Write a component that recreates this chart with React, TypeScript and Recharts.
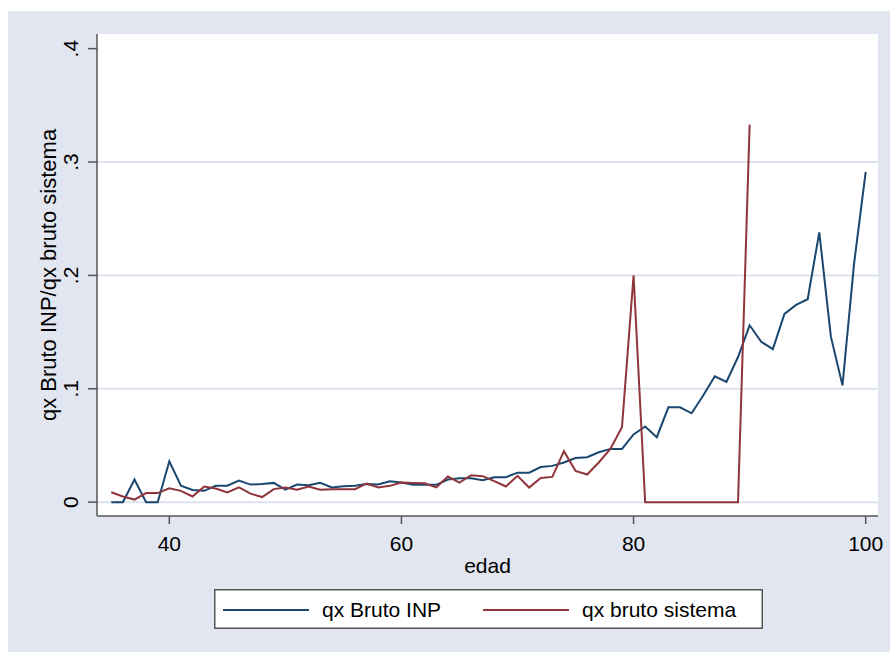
import { LineChart, Line, XAxis, YAxis, CartesianGrid, ReferenceLine, Legend, Label } from 'recharts';

// edad 35..100
const edades = [
  35, 36, 37, 38, 39, 40, 41, 42, 43, 44, 45, 46, 47, 48, 49, 50, 51, 52, 53, 54, 55, 56,
  57, 58, 59, 60, 61, 62, 63, 64, 65, 66, 67, 68, 69, 70, 71, 72, 73, 74, 75, 76, 77, 78,
  79, 80, 81, 82, 83, 84, 85, 86, 87, 88, 89, 90, 91, 92, 93, 94, 95, 96, 97, 98, 99, 100,
];

const qxBrutoINP = [
  0, 0, 0.02, 0, 0, 0.036, 0.0145, 0.0107, 0.01, 0.0145, 0.0145, 0.019, 0.0155, 0.016, 0.017, 0.011, 0.0155, 0.015, 0.017, 0.013, 0.014, 0.0145,
  0.016, 0.0156, 0.0185, 0.0173, 0.0153, 0.0153, 0.0153, 0.02, 0.021, 0.021, 0.0194, 0.022, 0.022, 0.026, 0.026, 0.031, 0.032, 0.035, 0.039, 0.0396, 0.044, 0.047,
  0.047, 0.0597, 0.0667, 0.0573, 0.0837, 0.0837, 0.0784, 0.094, 0.111, 0.106, 0.128, 0.156, 0.1415, 0.135, 0.166, 0.174, 0.179, 0.238, 0.146, 0.103, 0.2106, 0.2914,
];

const qxBrutoSistema = [
  0.0087, 0.005, 0.0023, 0.008, 0.008, 0.0122, 0.01, 0.005, 0.0137, 0.012, 0.0085, 0.013, 0.0075, 0.0045, 0.0115, 0.013, 0.011, 0.0137, 0.011, 0.0115, 0.0115, 0.0115,
  0.0165, 0.013, 0.0144, 0.0173, 0.017, 0.0167, 0.013, 0.0226, 0.0173, 0.0238, 0.0229, 0.0185, 0.0138, 0.0232, 0.0129, 0.0214, 0.0223, 0.045, 0.0276, 0.0244, 0.035, 0.047,
  0.066, 0.2, 0, 0, 0, 0, 0, 0, 0, 0, 0, 0.333, null, null, null, null, null, null, null, null, null, null,
];

const xTicks = [40, 60, 80, 100];
const yTicks = [0, 0.1, 0.2, 0.3, 0.4];
const gridValues = [0, 0.1, 0.2, 0.3];
const seriesNames = ['qx Bruto INP', 'qx bruto sistema'];
const seriesColors = ['#1A476F', '#90353B'];

const rows = edades.map((edad, i) => ({ edad, inp: qxBrutoINP[i], sistema: qxBrutoSistema[i] }));

const FONT = '"Liberation Sans", Arial, sans-serif';
const AXIS = '#555';

const fmtY = (v: number) => (v === 0 ? '0' : String(v).replace(/^0/, ''));

const YTick = (props: any) => {
  const { y, payload } = props;
  return (
    <text x={70} y={y} transform={`rotate(-90, 70, ${y})`} textAnchor="middle" fontSize={21} fontFamily={FONT} fill="#000">
      {fmtY(payload.value)}
    </text>
  );
};

const XTick = (props: any) => {
  const { x, payload } = props;
  return (
    <text x={x} y={540} textAnchor="middle" fontSize={21} fontFamily={FONT} fill="#000">
      {payload.value}
    </text>
  );
};

const Leyenda = () => (
  <svg width={549} height={40} style={{ display: 'block' }}>
    <rect x={0.75} y={0.75} width={547.5} height={38.5} fill="#fff" stroke={AXIS} strokeWidth={1.5} />
    <line x1={9} x2={95} y1={21} y2={21} stroke={seriesColors[0]} strokeWidth={2} />
    <text x={108} y={28} fontSize={21} fontFamily={FONT} fill="#000">{seriesNames[0]}</text>
    <line x1={269} x2={355} y1={21} y2={21} stroke={seriesColors[1]} strokeWidth={2} />
    <text x={368} y={28} fontSize={21} fontFamily={FONT} fill="#000">{seriesNames[1]}</text>
  </svg>
);

export default function App() {
  return (
    <div style={{ position: 'absolute', left: 8, top: 11, width: 882, height: 641, background: '#E1E6F0' }}>
      <LineChart width={882} height={641} data={rows} margin={{ top: 23, right: 12, bottom: 96, left: 9 }}>
        <CartesianGrid horizontal={false} vertical={false} fill="#fff" fillOpacity={1} />
        {gridValues.map((v) => (
          <ReferenceLine key={v} y={v} stroke="#DDE3EE" strokeWidth={2} />
        ))}
        <XAxis
          dataKey="edad"
          type="number"
          domain={[33.77, 101.06]}
          allowDataOverflow
          ticks={xTicks}
          interval={0}
          height={40}
          tickSize={8}
          axisLine={{ stroke: AXIS, strokeWidth: 1.5 }}
          tickLine={{ stroke: AXIS, strokeWidth: 1.5 }}
          tick={<XTick />}
        >
          <Label
            content={() => (
              <text x={479.5} y={562} textAnchor="middle" fontSize={21} fontFamily={FONT} fill="#000">edad</text>
            )}
          />
        </XAxis>
        <YAxis
          type="number"
          domain={[-0.0122, 0.4129]}
          allowDataOverflow
          ticks={yTicks}
          interval={0}
          width={80}
          tickSize={9}
          axisLine={{ stroke: AXIS, strokeWidth: 1.5 }}
          tickLine={{ stroke: AXIS, strokeWidth: 1.5 }}
          tick={<YTick />}
        >
          <Label
            content={() => (
              <text x={48} y={264} transform="rotate(-90, 48, 264)" textAnchor="middle" fontSize={22} fontFamily={FONT} fill="#000">
                qx Bruto INP/qx bruto sistema
              </text>
            )}
          />
        </YAxis>
        <Line type="linear" dataKey="inp" name={seriesNames[0]} stroke={seriesColors[0]} strokeWidth={2} dot={false} isAnimationActive={false} />
        <Line type="linear" dataKey="sistema" name={seriesNames[1]} stroke={seriesColors[1]} strokeWidth={2} dot={false} isAnimationActive={false} />
        <Legend
          layout="horizontal"
          verticalAlign="middle"
          align="center"
          content={() => <Leyenda />}
          wrapperStyle={{ position: 'absolute', left: 206, top: 578, width: 549, height: 40 }}
        />
      </LineChart>
    </div>
  );
}
